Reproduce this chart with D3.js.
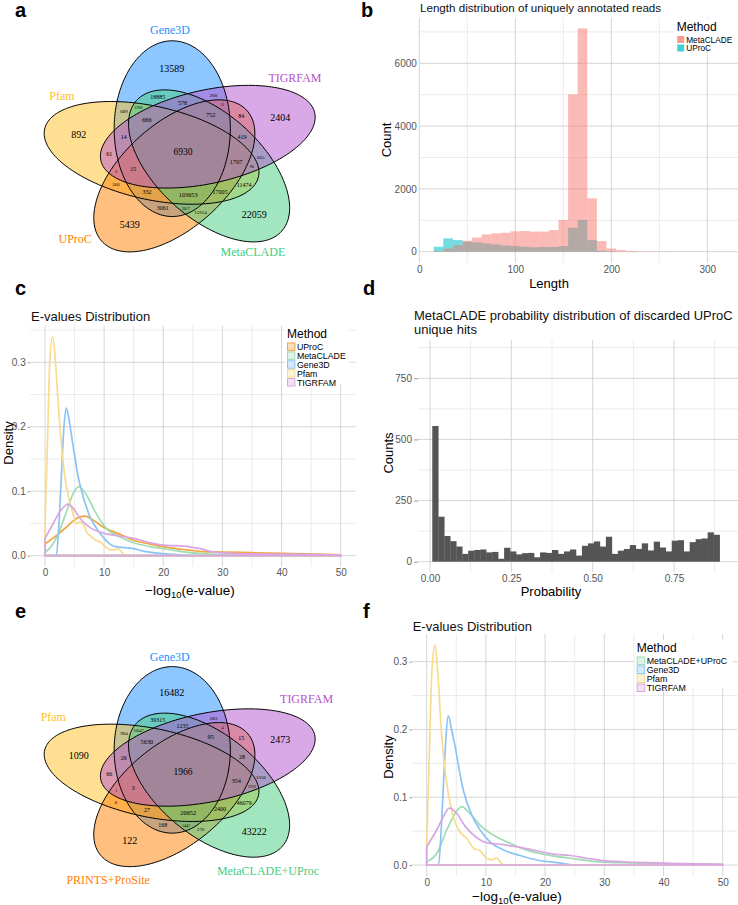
<!DOCTYPE html>
<html>
<head>
<meta charset="utf-8">
<style>
body { margin: 0; background: #fff; }
text { font-family: "Liberation Sans", Arial, sans-serif; }
.venn text { font-family: "Liberation Serif", "Times New Roman", serif; }
</style>
</head>
<body>
<script src="https://cdn.jsdelivr.net/npm/d3@7"></script>
<script>
const W = 738, H = 905;

// ---------- a / e : five set venn diagrams ----------
const vennColors = ["#1E90FF", "#FFC125", "#FF7F00", "#43CD80", "#B452CD"];
const vennNamesA = ["Gene3D", "Pfam", "UProC", "MetaCLADE", "TIGRFAM"];
const vennNamesE = ["Gene3D", "Pfam", "PRINTS+ProSite", "MetaCLADE+UProc", "TIGRFAM"];

// region counts by region type, entry k sits in the k-th rotation (72 deg steps)
const uniqA  = [13589, 892, 5439, 22059, 2404];
const pairA  = [18885, 61, 3061, 11474, 84];
const tripA  = [578, 14, 332, 17005, 419];
const quadA  = [666, 15, 103653, 1707, 752];
const edgeA  = [689, 266, 15914, 665, 260];
const tinyA  = [1968, 6, 2017, 90, 11];
const allA = 6930;

const uniqE  = [16482, 1090, 122, 43222, 2473];
const pairE  = [39315, 66, 168, 46079, 15];
const tripE  = [1235, 26, 27, 2400, 28];
const quadE  = [5630, 3, 20652, 354, 95];
const edgeE  = [984, 6, 176, 1056, 283];
const tinyE  = [10047, 1, 1441, 1916, 4];
const allE = 1966;

// ---------- b : length histogram ----------
const lenStart = 15, lenWidth = 10;
const lenMetaclade = [20, 100, 210, 350, 450, 550, 585, 605, 650, 660, 640, 640, 690, 1010,
  5010, 7110, 1700, 340, 100, 50, 25, 12, 8, 5, 4, 3, 2, 2, 1, 1, 1];
const lenUproc = [160, 425, 370, 320, 300, 265, 235, 200, 180, 160, 140, 150, 150, 180,
  765, 1010, 370, 30, 10, 0, 0, 0, 0, 0, 0, 0, 0, 0, 0, 0, 0];

// ---------- c : e-value densities ----------
const methodsC = ["UProC", "MetaCLADE", "Gene3D", "Pfam", "TIGRFAM"];
const colorsC = ["#F2A43E", "#9EDDB4", "#8CC3F5", "#FADB8E", "#D9A6E2"];
const uprocC = [[0,0.018],[2,0.032],[3.7,0.045],[5.4,0.058],[6.8,0.0615],[8.2,0.055],[9.9,0.044],
  [12.2,0.035],[15,0.024],[17.8,0.018],[20.6,0.013],[24,0.009],[27.4,0.006],[30.2,0.0057],
  [34.7,0.0047],[40.4,0.0036],[46,0.0026],[50,0.0015]];
const metacladeC = [[0,0.005],[1.4,0.019],[2.5,0.04],[3.7,0.07],[4.8,0.097],[5.75,0.107],[7,0.094],
  [8.5,0.068],[10.4,0.042],[12.7,0.029],[15,0.02],[17.8,0.014],[20.6,0.01],[23.4,0.006],
  [26.2,0.0036],[29,0.002],[33,0.0005],[36,0],[50,0]];
const gene3dC = [[0,0],[1.9,0],[2.3,0.04],[2.8,0.13],[3.2,0.2],[3.6,0.229],[4,0.215],[4.5,0.185],
  [5.1,0.15],[5.6,0.123],[6.2,0.1],[6.8,0.081],[7.5,0.063],[8.2,0.05],[9.3,0.035],[10.2,0.025],
  [11,0.018],[12,0.014],[13,0.013],[14,0.012],[15,0.011],[16.6,0.007],[19,0.004],[21.7,0.002],
  [24,0.001],[26,0],[50,0]];
const pfamC = [[0,0.045],[0.4,0.17],[0.8,0.3],[1.25,0.34],[1.7,0.31],[2.2,0.24],[2.8,0.17],
  [3.4,0.12],[4,0.09],[4.6,0.07],[5.3,0.05],[5.9,0.052],[6.4,0.05],[7,0.037],[7.8,0.03],
  [8.6,0.024],[9.4,0.021],[10.2,0.014],[11,0.009],[11.7,0.009],[12.3,0.011],[12.9,0.006],
  [13.6,0.0005],[14.5,0],[50,0]];
const tigrfamC = [[0,0.027],[1.4,0.05],[2.5,0.068],[3.9,0.08],[4.8,0.073],[6.2,0.055],[7.9,0.042],
  [9.9,0.035],[12.2,0.031],[15,0.027],[17.8,0.02],[20.6,0.016],[23.4,0.015],[26.2,0.011],
  [28.4,0.006],[31.8,0.0036],[37.5,0.0026],[43,0.002],[50,0.001]];

// ---------- d : probability histogram ----------
const probStart = 0.007, probWidth = 0.0184;
const probCounts = [555, 184, 105, 84, 62, 32, 45, 48, 50, 38, 40, 12, 57, 42, 30, 35, 36, 18,
  38, 36, 48, 32, 42, 50, 25, 65, 75, 83, 62, 102, 32, 45, 52, 68, 52, 75, 46, 82, 58, 42,
  86, 88, 42, 80, 92, 95, 120, 110];

// ---------- f : e-value densities after merge ----------
const methodsF = ["MetaCLADE+UProC", "Gene3D", "Pfam", "TIGRFAM"];
const colorsF = ["#9EDDB4", "#8CC3F5", "#FADB8E", "#D9A6E2"];
const metaUprocF = [[0,0.005],[1.7,0.017],[3.4,0.052],[4.8,0.076],[5.9,0.086],[7.3,0.076],[9,0.059],
  [11.3,0.044],[14.1,0.032],[16.9,0.022],[20.3,0.015],[24.2,0.01],[28.7,0.005],[32.7,0.0034],
  [38.3,0.0025],[43.9,0.0015],[50,0.001]];
const gene3dF = [[0,0],[2,0],[2.5,0.06],[3,0.15],[3.66,0.22],[4.2,0.2],[4.8,0.175],[5.5,0.14],
  [6.2,0.11],[7.6,0.074],[9,0.052],[10.7,0.034],[13,0.022],[15.8,0.014],[18.6,0.0074],
  [22,0.0034],[25,0],[50,0]];
const pfamF = [[0,0.03],[0.4,0.15],[0.9,0.29],[1.4,0.325],[1.9,0.28],[2.5,0.194],[3.4,0.12],
  [4.5,0.071],[5.6,0.049],[6.8,0.039],[7.9,0.025],[9,0.021],[10.1,0.01],[11,0.008],
  [11.8,0.01],[12.4,0.005],[13,0],[50,0]];
const tigrfamF = [[0,0.027],[1.7,0.052],[2.8,0.071],[3.8,0.084],[5.1,0.076],[6.5,0.057],[8.2,0.042],
  [10.1,0.033],[13,0.03],[15.8,0.026],[18.6,0.021],[21.4,0.016],[24.2,0.014],[27,0.01],
  [29.8,0.0064],[35.5,0.004],[41.1,0.0025],[50,0.001]];


const svg = d3.select("body").append("svg")
  .attr("width", W)
  .attr("height", H);
svg.append("rect").attr("width", W).attr("height", H).attr("fill", "#fff");

const rad = Math.PI / 180;

// where each region type sits (polar, unit venn coords) and its font size
const regionLayout = [
  {i: 0, angle: 96,    r: 0.44,  size: 10},
  {i: 1, angle: 110,   r: 0.305, size: 6},
  {i: 2, angle: 90.5,  r: 0.257, size: 6},
  {i: 3, angle: 131.5, r: 0.225, size: 6.3},
  {i: 4, angle: 139,   r: 0.323, size: 5},
  {i: 5, angle: 128.5, r: 0.295, size: 4}
];

function drawVenn(cx, cy, sx, sy, names, groups, all, catPos) {
  const ux = d3.scaleLinear().domain([0, 1]).range([cx, cx + sx]);
  const uy = d3.scaleLinear().domain([0, 1]).range([cy, cy - sy]);
  const g = svg.append("g").attr("class", "venn");
  const line = d3.line().x(p => ux(p[0])).y(p => uy(p[1])).curve(d3.curveLinearClosed);

  // ellipse outlines in unit coords
  const shapes = names.map((n, k) => {
    const rot = (90 + 72 * k) * rad, dir = (110 + 72 * k) * rad;
    const ex = 0.13 * Math.cos(dir), ey = 0.13 * Math.sin(dir);
    return d3.range(0, 360, 2).map(t => {
      const a = 0.46 * Math.cos(t * rad), b = 0.24 * Math.sin(t * rad);
      return [ex + a * Math.cos(rot) - b * Math.sin(rot), ey + a * Math.sin(rot) + b * Math.cos(rot)];
    });
  });

  g.selectAll(".fill").data(shapes).join("path")
    .attr("d", line)
    .attr("fill", (d, k) => vennColors[k])
    .attr("fill-opacity", 0.5);
  g.selectAll(".edge").data(shapes).join("path")
    .attr("d", line)
    .attr("fill", "none")
    .attr("stroke", "#000")
    .attr("stroke-width", 1);

  regionLayout.forEach(L => {
    groups[L.i].forEach((v, k) => {
      const a = (L.angle + 72 * k) * rad;
      g.append("text")
        .attr("x", ux(L.r * Math.cos(a)))
        .attr("y", uy(L.r * Math.sin(a)))
        .attr("dy", "0.35em")
        .attr("text-anchor", "middle")
        .attr("font-size", L.size)
        .text(v);
    });
  });
  g.append("text")
    .attr("x", ux(0)).attr("y", uy(0)).attr("dy", "0.35em")
    .attr("text-anchor", "middle").attr("font-size", 9.5)
    .text(all);

  names.forEach((n, k) => {
    const a = catPos[k][0] * rad;
    g.append("text")
      .attr("x", ux(catPos[k][1] * Math.cos(a)))
      .attr("y", uy(catPos[k][1] * Math.sin(a)))
      .attr("dy", "0.35em")
      .attr("text-anchor", "middle")
      .attr("font-size", 12)
      .attr("fill", vennColors[k])
      .text(n);
  });
}

drawVenn(183, 152, 242, 191, vennNamesA, [uniqA, pairA, tripA, quadA, edgeA, tinyA], allA,
  [[94.8, 0.641], [149.6, 0.58], [225.6, 0.637], [298.9, 0.598], [39.9, 0.603]]);
drawVenn(183, 772, 242, 181, vennNamesE, [uniqE, pairE, tripE, quadE, edgeE, tinyE], allE,
  [[94.9, 0.64], [150.3, 0.617], [242.6, 0.672], [302.7, 0.65], [38.2, 0.65]]);

// ---------- ggplot-like panel ----------
function panel(o) {
  const g = svg.append("g");
  const [x0, x1, y0, y1] = o.box;
  g.selectAll(".vmin").data(o.xMinor).join("line")
    .attr("x1", o.x).attr("x2", o.x).attr("y1", y0).attr("y2", y1)
    .attr("stroke", "#e3e3e3").attr("stroke-width", 0.7);
  g.selectAll(".hmin").data(o.yMinor).join("line")
    .attr("y1", o.y).attr("y2", o.y).attr("x1", x0).attr("x2", x1)
    .attr("stroke", "#e3e3e3").attr("stroke-width", 0.7);
  g.selectAll(".vmaj").data(o.xMajor).join("line")
    .attr("x1", o.x).attr("x2", o.x).attr("y1", y0).attr("y2", y1)
    .attr("stroke", "#cbcbcb").attr("stroke-width", 0.8);
  g.selectAll(".hmaj").data(o.yMajor).join("line")
    .attr("y1", o.y).attr("y2", o.y).attr("x1", x0).attr("x2", x1)
    .attr("stroke", "#cbcbcb").attr("stroke-width", 0.8);

  const ax = g.append("g").attr("transform", `translate(0,${y1})`)
    .call(d3.axisBottom(o.x).tickValues(o.xMajor).tickSize(0).tickPadding(o.xPad).tickFormat(o.xFmt));
  const ay = g.append("g").attr("transform", `translate(${x0},0)`)
    .call(d3.axisLeft(o.y).tickValues(o.yMajor).tickSize(o.yTick).tickPadding(2).tickFormat(o.yFmt));
  [ax, ay].forEach(a => {
    a.select(".domain").remove();
    a.selectAll("line").attr("stroke", "#9a9a9a");
    a.selectAll("text").attr("font-size", 10).attr("fill", "#555")
      .attr("font-family", "Liberation Sans, Arial, sans-serif");
  });
  return g;
}

function title(x, y, s, size) {
  svg.append("text").attr("x", x).attr("y", y).attr("font-size", size || 13).attr("fill", "#111").text(s);
}
function axisTitle(x, y, s, rotate) {
  svg.append("text")
    .attr("transform", `translate(${x},${y})` + (rotate ? " rotate(-90)" : ""))
    .attr("text-anchor", "middle").attr("dy", "0.35em")
    .attr("font-size", 13).attr("fill", "#000").text(s);
}
function logLabel(x, y) {
  const t = svg.append("text").attr("x", x).attr("y", y).attr("text-anchor", "middle")
    .attr("font-size", 13.5).attr("fill", "#000");
  t.append("tspan").text("\u2212log");
  t.append("tspan").attr("font-size", 9.5).attr("dy", 2.5).text("10");
  t.append("tspan").attr("dy", -2.5).text("(e-value)");
}
function legend(x, y, w, h, names, fills, strokes, opacity, size, fs) {
  const g = svg.append("g");
  g.append("rect").attr("x", x - 2).attr("y", y - 12).attr("width", w).attr("height", h).attr("fill", "#fff");
  g.append("text").attr("x", x).attr("y", y).attr("font-size", 12).attr("fill", "#000").text("Method");
  names.forEach((n, i) => {
    const yy = y + 5 + i * size;
    g.append("rect").attr("x", x + 0.5).attr("y", yy).attr("width", size - 1.5).attr("height", size - 1.5)
      .attr("fill", fills[i]).attr("fill-opacity", opacity)
      .attr("stroke", strokes ? strokes[i] : "none").attr("stroke-width", 1);
    g.append("text").attr("x", x + size + 1).attr("y", yy + size / 2 - 0.5).attr("dy", "0.35em")
      .attr("font-size", fs).attr("fill", "#000").text(n);
  });
}

// ---------- panel b ----------
const xB = d3.scaleLinear().domain([0, 300]).range([419.3, 707.3]);
const yB = d3.scaleLinear().domain([0, 6000]).range([251.7, 63.3]);
panel({x: xB, y: yB, box: [xB(-0.5), W, yB(7455), yB(-355)],
  xMajor: [0, 100, 200, 300], xMinor: [50, 150, 250],
  yMajor: [0, 2000, 4000, 6000], yMinor: [1000, 3000, 5000, 7000],
  xFmt: d3.format("d"), yFmt: d3.format("d"), xPad: 3, yTick: 0});

const histB = svg.append("g");
histB.selectAll(".up").data(lenUproc).join("rect")
  .attr("x", (d, i) => xB(lenStart + i * lenWidth))
  .attr("width", xB(lenWidth) - xB(0))
  .attr("y", d => yB(d))
  .attr("height", d => yB(0) - yB(d))
  .attr("fill", "#00BFC4").attr("fill-opacity", 0.55);
histB.selectAll(".mc").data(lenMetaclade).join("rect")
  .attr("x", (d, i) => xB(lenStart + i * lenWidth))
  .attr("width", xB(lenWidth) - xB(0))
  .attr("y", d => yB(d))
  .attr("height", d => yB(0) - yB(d))
  .attr("fill", "#F8766D").attr("fill-opacity", 0.5);

title(420, 12, "Length distribution of uniquely annotated reads", 11.6);
axisTitle(549, 283, "Length");
axisTitle(386.7, 140, "Count", true);
legend(676.7, 31, 62, 29, ["MetaCLADE", "UProC"], ["#F8766D", "#00BFC4"], null, 0.75, 8.5, 8.3);

// ---------- density panels ----------
function densityPanel(o) {
  panel({x: o.x, y: o.y, box: [o.x(-2.5), o.x(52.5), o.y(o.top), o.y(o.bottom)],
    xMajor: [0, 10, 20, 30, 40, 50], xMinor: [5, 15, 25, 35, 45],
    yMajor: [0, 0.1, 0.2, 0.3], yMinor: o.yMinor,
    xFmt: d3.format("d"), yFmt: d3.format(".1f"), xPad: o.xPad, yTick: 2.5});
  const upper = d3.line().x(p => o.x(p[0])).y(p => o.y(p[1])).curve(d3.curveMonotoneX);
  svg.append("g").selectAll("path").data(o.series).join("path")
    .attr("d", s => upper(s) + `L${o.x(s[s.length - 1][0])},${o.y(0)}L${o.x(s[0][0])},${o.y(0)}Z`)
    .attr("fill", "none")
    .attr("stroke", (s, i) => o.colors[i])
    .attr("stroke-width", 1.7)
    .attr("stroke-linejoin", "round");
}

const xC = d3.scaleLinear().domain([0, 50]).range([45, 340.7]);
const yC = d3.scaleLinear().domain([0, 0.3]).range([555.7, 362.3]);
densityPanel({x: xC, y: yC, top: 0.357, bottom: -0.017, yMinor: [0.05, 0.15, 0.25, 0.35], xPad: 2.5,
  series: [uprocC, metacladeC, gene3dC, pfamC, tigrfamC], colors: colorsC});
title(31, 321, "E-values Distribution");
axisTitle(8, 443, "Density", true);
logLabel(190, 595);
legend(287, 338, 64, 58, methodsC, colorsC, colorsC, 0.35, 8.9, 8.8);

// ---------- panel d ----------
const xD = d3.scaleLinear().domain([0, 0.75]).range([430, 674]);
const yD = d3.scaleLinear().domain([0, 750]).range([561.7, 378.3]);
panel({x: xD, y: yD, box: [418, W, yD(907), yD(-43)],
  xMajor: [0, 0.25, 0.5, 0.75], xMinor: [0.125, 0.375, 0.625, 0.875],
  yMajor: [0, 250, 500, 750], yMinor: [125, 375, 625, 875],
  xFmt: d3.format(".2f"), yFmt: d3.format("d"), xPad: 2.5, yTick: 4});
svg.append("g").selectAll("rect").data(probCounts).join("rect")
  .attr("x", (d, i) => xD(probStart + i * probWidth))
  .attr("width", xD(probWidth) - xD(0) + 0.3)
  .attr("y", d => yD(d))
  .attr("height", d => yD(0) - yD(d))
  .attr("fill", "#555");
title(414, 319.5, "MetaCLADE probability distribution of discarded UProC");
title(414, 333.5, "unique hits");
axisTitle(551, 591, "Probability");
axisTitle(388, 453, "Counts", true);

// ---------- panel f ----------
const xF = d3.scaleLinear().domain([0, 50]).range([426.7, 722.7]);
const yF = d3.scaleLinear().domain([0, 0.3]).range([865, 661.7]);
densityPanel({x: xF, y: yF, top: 0.341, bottom: -0.01625, yMinor: [0.05, 0.15, 0.25], xPad: 2.5,
  series: [metaUprocF, gene3dF, pfamF, tigrfamF], colors: colorsF});
title(412.7, 631, "E-values Distribution");
axisTitle(388, 757, "Density", true);
logLabel(517, 901);
legend(636.7, 652, 98, 48, methodsF, colorsF, colorsF, 0.35, 9, 8.8);

// ---------- panel letters ----------
[["a", 15, 17], ["b", 361, 17], ["c", 15, 295], ["d", 363, 295], ["e", 15, 618], ["f", 363, 618]]
  .forEach(l => svg.append("text").attr("x", l[1]).attr("y", l[2])
    .attr("font-size", 20).attr("font-weight", "bold").attr("fill", "#000").text(l[0]));
</script>
</body>
</html>
